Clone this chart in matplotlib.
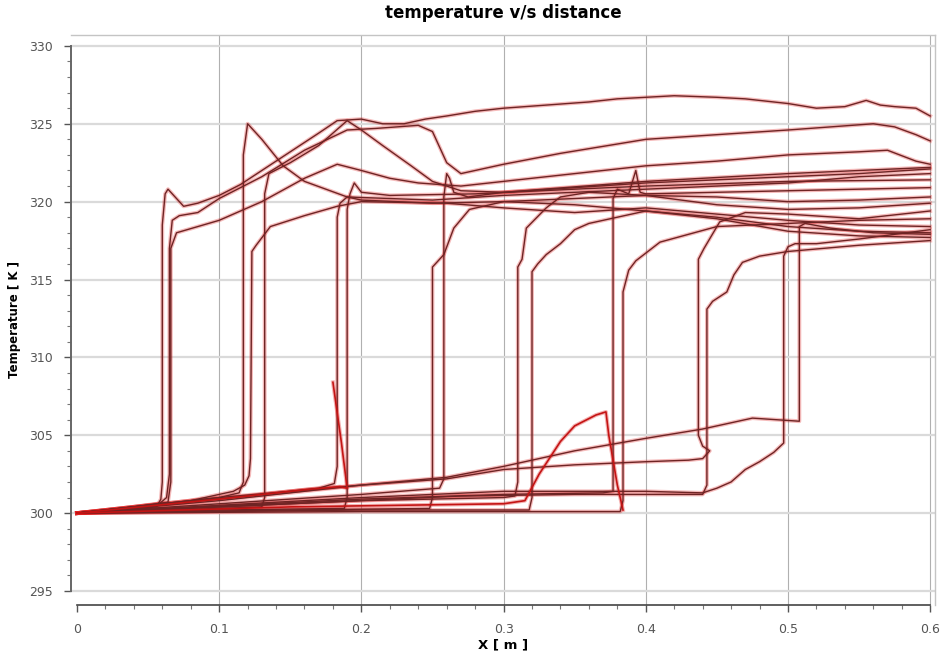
import matplotlib
matplotlib.use("Agg")
import matplotlib.pyplot as plt
from matplotlib.ticker import MultipleLocator

# each curve: list of (x [m], T [K])
c01 = [(0, 300), (0.03, 300.2), (0.056, 300.4), (0.059, 300.9), (0.06, 302), (0.06, 318.5), (0.062, 320.5),
       (0.064, 320.8), (0.068, 320.4), (0.075, 319.7), (0.085, 319.9), (0.1, 320.4), (0.115, 321.1), (0.13, 322),
       (0.15, 323.2), (0.17, 324.4), (0.183, 325.2), (0.2, 325.3), (0.215, 325.0), (0.23, 325.0), (0.245, 325.3),
       (0.26, 325.5), (0.28, 325.8), (0.3, 326.0), (0.33, 326.2), (0.36, 326.4), (0.38, 326.6), (0.4, 326.7),
       (0.42, 326.8), (0.45, 326.7), (0.47, 326.6), (0.5, 326.3), (0.52, 326.0), (0.54, 326.1), (0.555, 326.5),
       (0.565, 326.2), (0.575, 326.1), (0.59, 326.0), (0.6, 325.5)]
c02 = [(0, 300), (0.03, 300.3), (0.058, 300.6), (0.063, 301), (0.065, 302.5), (0.065, 317), (0.067, 318.8),
       (0.072, 319.1), (0.085, 319.3), (0.1, 320.2), (0.13, 321.6), (0.16, 323.3), (0.19, 324.6), (0.21, 324.7),
       (0.24, 324.9), (0.25, 324.5), (0.26, 322.5), (0.27, 321.8), (0.3, 322.4), (0.34, 323.1), (0.4, 324.0),
       (0.45, 324.3), (0.5, 324.6), (0.56, 325.0), (0.575, 324.8), (0.59, 324.3), (0.6, 323.9)]
c03 = [(0, 300), (0.04, 300.4), (0.064, 300.7), (0.066, 302), (0.066, 317.0), (0.07, 318.0), (0.085, 318.4),
       (0.1, 318.8), (0.13, 320.0), (0.16, 321.5), (0.183, 322.4), (0.2, 322.0), (0.22, 321.5), (0.24, 321.2),
       (0.27, 321.0), (0.3, 321.3), (0.35, 321.8), (0.4, 322.3), (0.45, 322.6), (0.5, 323.0), (0.55, 323.2),
       (0.57, 323.3), (0.59, 322.6), (0.6, 322.4)]
c04 = [(0, 300), (0.06, 300.6), (0.1, 301), (0.114, 301.3), (0.117, 302), (0.117, 323), (0.12, 325.0),
       (0.122, 324.8), (0.13, 324.0), (0.145, 322.3), (0.16, 321.3), (0.175, 320.8), (0.19, 320.3), (0.25, 320.1),
       (0.3, 320.4), (0.4, 320.8), (0.5, 321.2), (0.55, 321.6), (0.6, 321.8)]
c05 = [(0, 300), (0.08, 300.8), (0.11, 301.4), (0.118, 301.8), (0.121, 302.4), (0.122, 303.5), (0.123, 316.8),
       (0.126, 317.2), (0.136, 318.4), (0.16, 319.1), (0.183, 319.7), (0.2, 320.0), (0.26, 319.9), (0.3, 319.6),
       (0.35, 319.3), (0.4, 319.6), (0.45, 319.2), (0.5, 318.8), (0.55, 318.5), (0.6, 318.4)]
c06 = [(0, 300), (0.1, 300.3), (0.13, 300.4), (0.132, 301), (0.132, 320.5), (0.135, 321.8), (0.15, 322.5),
       (0.17, 323.6), (0.185, 324.8), (0.19, 325.2), (0.2, 324.6), (0.215, 323.6), (0.235, 322.3), (0.25, 321.3),
       (0.27, 320.7), (0.3, 320.6), (0.4, 321.2), (0.5, 321.6), (0.55, 321.8), (0.6, 322.1)]
c07 = [(0, 300), (0.1, 300.9), (0.16, 301.5), (0.185, 301.7), (0.19, 301.6), (0.186, 304.5), (0.18, 308.4)]
c08 = [(0, 300), (0.12, 301.1), (0.17, 301.6), (0.181, 301.9), (0.183, 303), (0.183, 319.0), (0.185, 319.9),
       (0.19, 320.3), (0.2, 320.1), (0.25, 319.9), (0.3, 320.0), (0.35, 320.2), (0.4, 320.4), (0.45, 320.3),
       (0.5, 320.0), (0.55, 320.1), (0.6, 320.3)]
c09 = [(0, 300), (0.1, 300.2), (0.188, 300.3), (0.19, 301), (0.19, 319.5), (0.192, 320.5), (0.195, 321.2),
       (0.2, 320.6), (0.22, 320.4), (0.28, 320.5), (0.35, 320.8), (0.4, 321.0), (0.5, 321.3), (0.6, 321.4)]
c10 = [(0, 300), (0.15, 300.2), (0.248, 300.3), (0.25, 301), (0.25, 315.8), (0.253, 316.1), (0.258, 316.6),
       (0.265, 318.3), (0.276, 319.5), (0.3, 320.0), (0.35, 319.8), (0.4, 319.4), (0.45, 319.0), (0.5, 318.4),
       (0.55, 318.1), (0.6, 318.0)]
c11 = [(0, 300), (0.1, 300.6), (0.2, 301.2), (0.255, 301.6), (0.258, 302.2), (0.258, 320.3), (0.26, 321.8),
       (0.262, 321.5), (0.265, 320.6), (0.275, 320.3), (0.3, 320.6), (0.4, 321.3), (0.5, 321.8), (0.55, 322.0),
       (0.6, 322.2)]
c12 = [(0, 300), (0.1, 300.4), (0.2, 300.8), (0.3, 301.0), (0.308, 301.1), (0.31, 302), (0.31, 315.8),
       (0.313, 316.3), (0.316, 318.3), (0.33, 319.6), (0.34, 320.3), (0.36, 320.6), (0.4, 320.4), (0.45, 319.8),
       (0.5, 319.5), (0.55, 319.6), (0.6, 319.9)]
c13 = [(0, 300), (0.2, 300.2), (0.318, 300.2), (0.32, 301), (0.32, 315.5), (0.324, 316.0), (0.33, 316.6),
       (0.34, 317.3), (0.35, 318.2), (0.36, 318.6), (0.38, 319.0), (0.4, 319.4), (0.45, 318.9), (0.5, 318.1),
       (0.55, 317.8), (0.6, 317.7)]
c14 = [(0, 300), (0.15, 300.4), (0.3, 300.6), (0.315, 300.8), (0.325, 302.5), (0.34, 304.6), (0.35, 305.6),
       (0.365, 306.3), (0.372, 306.5), (0.374, 305.0), (0.38, 301.8), (0.384, 300.2)]
c15 = [(0, 300), (0.2, 300.9), (0.3, 301.2), (0.37, 301.3), (0.377, 301.4), (0.377, 320.2), (0.38, 320.8),
       (0.388, 320.5), (0.393, 322.0), (0.396, 320.6), (0.4, 320.5), (0.45, 320.6), (0.5, 320.7), (0.55, 320.8),
       (0.6, 320.9)]
c16 = [(0, 300), (0.2, 300.1), (0.382, 300.1), (0.384, 300.8), (0.384, 314.2), (0.388, 315.6), (0.393, 316.2),
       (0.41, 317.4), (0.43, 317.9), (0.45, 318.4), (0.5, 318.6), (0.55, 318.8), (0.6, 318.9)]
c18 = [(0, 300), (0.1, 300.8), (0.2, 301.8), (0.26, 302.2), (0.3, 302.8), (0.35, 303.1), (0.4, 303.3),
       (0.43, 303.4), (0.44, 303.5), (0.445, 304.0), (0.44, 304.3), (0.437, 305), (0.437, 316.3), (0.441, 317.0),
       (0.452, 318.7), (0.47, 319.3), (0.5, 319.2), (0.55, 318.9), (0.6, 319.4)]
c19 = [(0, 300), (0.15, 300.6), (0.27, 301.1), (0.35, 301.2), (0.44, 301.2), (0.443, 301.8), (0.443, 313.1),
       (0.447, 313.6), (0.457, 314.2), (0.462, 315.3), (0.468, 316.1), (0.48, 316.5), (0.5, 316.8), (0.55, 317.2),
       (0.6, 317.5)]
c20 = [(0, 300), (0.2, 301.0), (0.3, 301.4), (0.4, 301.4), (0.44, 301.3), (0.45, 301.6), (0.46, 302.0),
       (0.47, 302.8), (0.48, 303.3), (0.49, 303.9), (0.497, 304.5), (0.497, 316.5), (0.5, 317.1), (0.505, 317.3),
       (0.52, 317.3), (0.55, 317.6), (0.6, 318.2)]
c21 = [(0, 300), (0.1, 301.0), (0.2, 301.8), (0.26, 302.3), (0.3, 303.0), (0.35, 304.0), (0.4, 304.8),
       (0.44, 305.4), (0.475, 306.1), (0.508, 305.9), (0.508, 318.4), (0.512, 318.6), (0.53, 318.3), (0.56, 318.0),
       (0.6, 317.9)]

dark_curves = [c01, c02, c03, c04, c05, c06, c08, c09, c10, c11, c12, c13, c15, c16, c18, c19, c20, c21]
red_curves = [c07, c14]

x_ticks = [0, 0.1, 0.2, 0.3, 0.4, 0.5, 0.6]
x_tick_labels = ["0", "0.1", "0.2", "0.3", "0.4", "0.5", "0.6"]
y_ticks = [295, 300, 305, 310, 315, 320, 325, 330]

narrow = ["Liberation Sans Narrow", "DejaVu Sans Condensed", "DejaVu Sans"]

fig = plt.figure(figsize=(9.4, 6.53), dpi=100)
ax = fig.add_axes([71 / 940, 48 / 653, 864 / 940, 570 / 653])

for c in dark_curves:
    xs = [p[0] for p in c]
    ts = [p[1] for p in c]
    ax.plot(xs, ts, color="#e02020", lw=2.8, alpha=0.3, solid_joinstyle="round", zorder=3)
    ax.plot(xs, ts, color="#6e2424", lw=1.0, zorder=4)
for c in red_curves:
    xs = [p[0] for p in c]
    ts = [p[1] for p in c]
    ax.plot(xs, ts, color="#e02020", lw=2.8, alpha=0.35, zorder=3)
    ax.plot(xs, ts, color="#c41414", lw=1.2, zorder=4)

ax.set_xlim(-0.0042, 0.6034)
ax.set_ylim(294.1, 330.7)

# grid
for xv in x_ticks[1:]:
    ax.axvline(xv, color="#b0b0b0", lw=0.8, zorder=1)
for yv in y_ticks:
    ax.axhline(yv, color="#dadada", lw=1.6, zorder=1)

ax.set_xticks(x_ticks)
ax.set_xticklabels(x_tick_labels)
ax.set_yticks(y_ticks)
ax.xaxis.set_minor_locator(MultipleLocator(0.02))
ax.yaxis.set_minor_locator(MultipleLocator(1))
ax.tick_params(axis="both", which="major", direction="out", length=5, width=1, color="#555555",
               labelsize=9, labelcolor="#555555", pad=8)
ax.tick_params(axis="both", which="minor", direction="out", length=3, width=0.8, color="#777777")
for lab in ax.get_xticklabels() + ax.get_yticklabels():
    lab.set_family(narrow)

for s in ["top", "right"]:
    ax.spines[s].set_color("#c4c4c4")
    ax.spines[s].set_linewidth(1.0)
ax.spines["left"].set_color("#666666")
ax.spines["left"].set_linewidth(1.4)
ax.spines["left"].set_bounds(295, 330)
ax.spines["bottom"].set_color("#444444")
ax.spines["bottom"].set_linewidth(1.2)
ax.spines["bottom"].set_bounds(0, 0.6)

ax.set_title("temperature v/s distance", fontsize=12, fontweight="bold", family=narrow, pad=12)
ax.set_ylabel("Temperature [ K ]", fontsize=8.5, fontweight="bold", family=narrow, labelpad=6)
ax.set_xlabel("X [ m ]", fontsize=9.5, fontweight="bold", family=narrow, labelpad=2)

fig.savefig("out.png", dpi=100)
